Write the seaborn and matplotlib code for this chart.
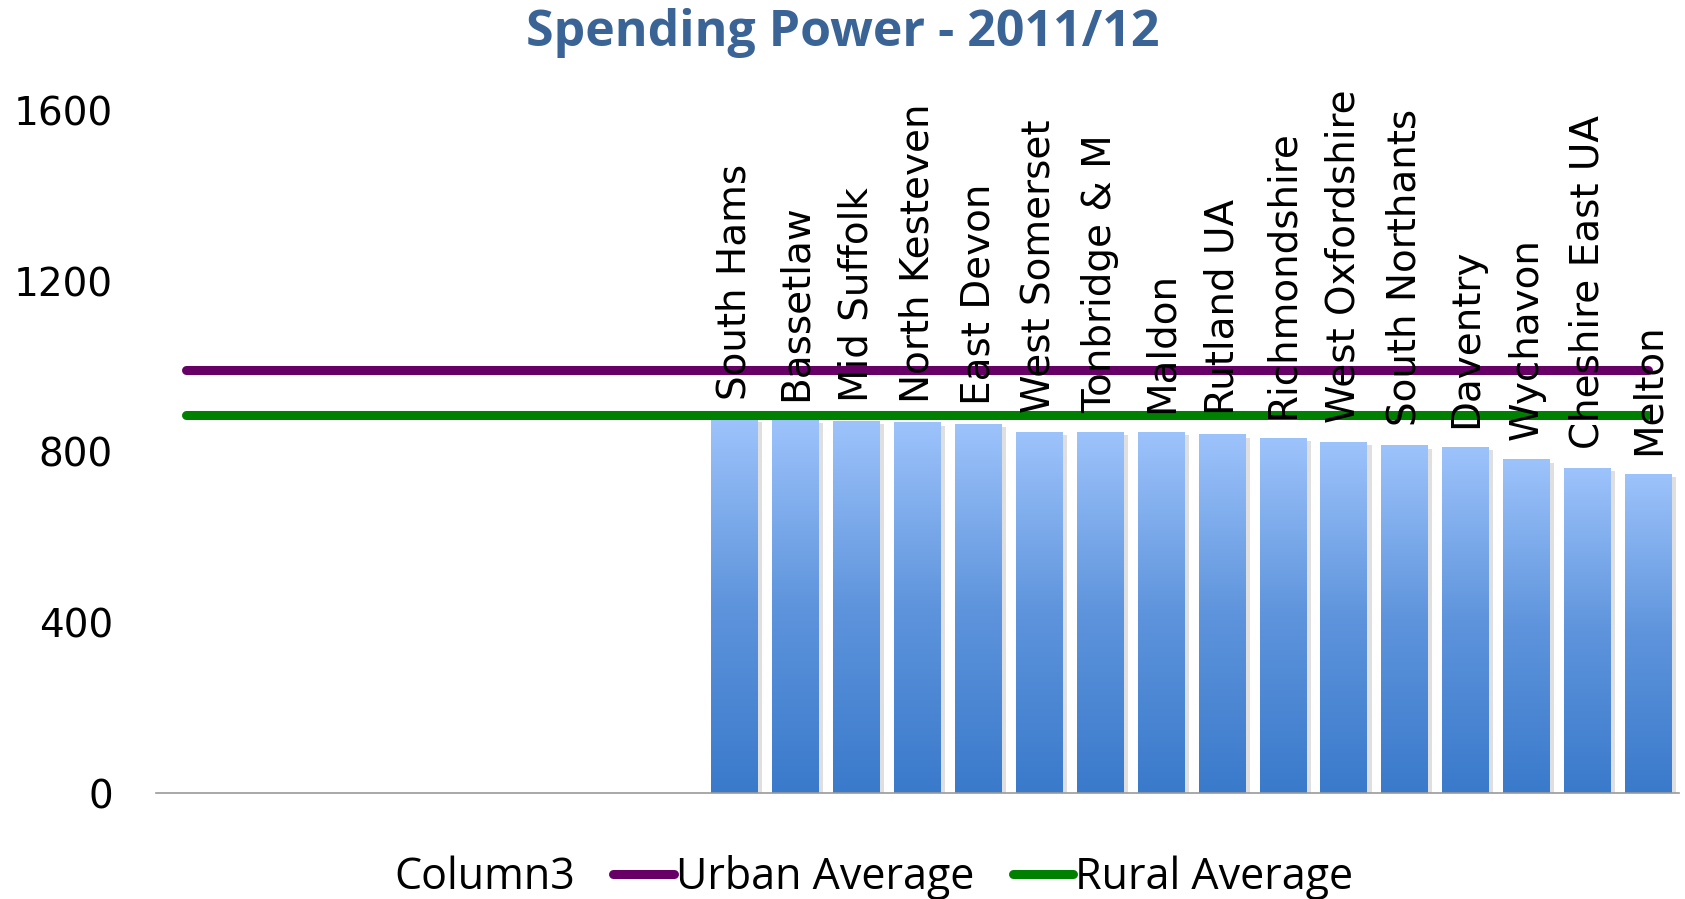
import numpy as np
import pandas as pd
import seaborn as sns
import matplotlib.pyplot as plt
from matplotlib.colors import LinearSegmentedColormap
from matplotlib.lines import Line2D
from matplotlib.patches import Patch
import matplotlib.patheffects as pe

# ---------------------------------------------------------------
# data
# ---------------------------------------------------------------
n_blank = 9  # empty category slots before the first district
districts = ["South Hams", "Bassetlaw", "Mid Suffolk", "North Kesteven",
             "East Devon", "West Somerset", "Tonbridge & M", "Maldon",
             "Rutland UA", "Richmondshire", "West Oxfordshire",
             "South Northants", "Daventry", "Wychavon", "Cheshire East UA",
             "Melton"]
spending = [876, 873, 871, 868, 864, 846, 846, 846,
            840, 832, 822, 814, 811, 781, 762, 748]
urban_avg = 993
rural_avg = 886

title = "Spending Power - 2011/12"
yticks = [0, 400, 800, 1200, 1600]

# ---------------------------------------------------------------
# styling
# ---------------------------------------------------------------
sns.set_style("white")
plt.rcParams["font.family"] = ["DejaVu Sans"]
plt.rcParams["text.color"] = "black"
plt.rcParams["ytick.color"] = "black"
narrow = ["Liberation Sans Narrow", "Open Sans", "DejaVu Sans"]

blank_slots = [f"_blank{i}" for i in range(n_blank)]
order = blank_slots + districts
df = pd.DataFrame({"district": districts, "spend": spending})

fig = plt.figure(figsize=(16.85, 8.99), dpi=100)
ax = fig.add_axes([0.0926, 0.1179, 0.9038, 0.759])

sns.barplot(data=df, x="district", y="spend", order=order, width=0.77,
            color="#5b90d8", linewidth=0, ax=ax, zorder=1)

# gradient fill on every bar, light at the top, dark at the bottom
cmap = LinearSegmentedColormap.from_list("bar", ["#3a7acb", "#5e94dc", "#9dc3fb"])
grad = np.linspace(0, 1, 256).reshape(-1, 1)
for p in ax.patches:
    x0, w, h = p.get_x(), p.get_width(), p.get_height()
    if not np.isfinite(h) or h == 0:
        continue
    p.set_path_effects([pe.SimplePatchShadow(offset=(3, -2), alpha=0.25,
                                             shadow_rgbFace="#808080"),
                        pe.Normal()])
    ax.imshow(grad, extent=[x0, x0 + w, 0, h], origin="lower", cmap=cmap,
              aspect="auto", zorder=1.5, interpolation="bicubic")

# average lines across all category slots
slots = np.arange(len(order))
sns.lineplot(x=slots, y=[urban_avg] * len(order), color="#660066",
             linewidth=6.5, solid_capstyle="round", ax=ax, zorder=3)
sns.lineplot(x=slots, y=[rural_avg] * len(order), color="#008000",
             linewidth=6.5, solid_capstyle="round", ax=ax, zorder=3)

# rotated data labels above each bar
for name, val in zip(districts, spending):
    ax.annotate(name, (order.index(name), val), xytext=(0, 14),
                textcoords="offset points", rotation=90, ha="center",
                va="bottom", fontsize=28, color="black", zorder=4)

ax.set_xlim(-0.5, len(order) - 0.5)
ax.set_ylim(0, 1600)
ax.set_yticks(yticks)
ax.set_xticks([])
ax.set_xlabel("")
ax.set_ylabel("")
ax.tick_params(axis="y", length=0, pad=31, labelsize=28, labelcolor="black")
for s in ["left", "right", "top"]:
    ax.spines[s].set_visible(False)
ax.spines["bottom"].set_color("#9a9a9a")
ax.spines["bottom"].set_linewidth(1.2)

fig.text(0.5, 0.963, title, ha="center", va="center", fontsize=36,
         fontweight="bold", color="#3a6496", family=narrow)

handles = [Patch(facecolor="none", edgecolor="none"),
           Line2D([], [], color="#660066", linewidth=6.5, solid_capstyle="round"),
           Line2D([], [], color="#008000", linewidth=6.5, solid_capstyle="round")]
fig.legend(handles, ["Column3", "Urban Average", "Rural Average"],
           loc="center", bbox_to_anchor=(0.5, 0.024), ncol=3, frameon=False,
           handlelength=1.4, handletextpad=0.05, columnspacing=0.9,
           labelcolor="black", prop={"family": narrow, "size": 31})

fig.savefig("out.png", dpi=100)
